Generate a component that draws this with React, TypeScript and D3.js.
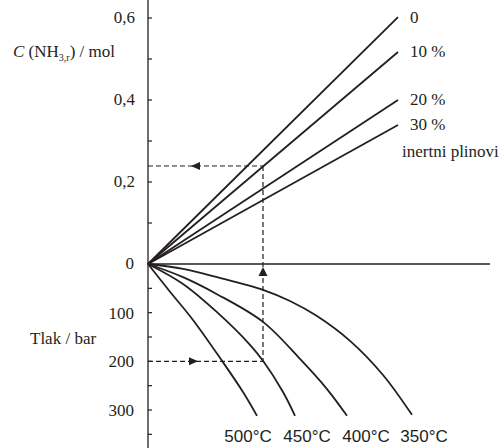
import * as d3 from 'd3';

// inert gas share -> ammonia amount at the right end of each line
const inertLabels = ['0', '10 %', '20 %', '30 %'];
const inertEndC = [0.602, 0.517, 0.4, 0.339];

// temperature curves: [x (arbitrary), pressure / bar]
const tempLabels = ['500°C', '450°C', '400°C', '350°C'];
const curve500 = [[0, 0], [0.088, 57], [0.18, 115], [0.296, 199], [0.38, 263], [0.436, 312]];
const curve450 = [[0, 0], [0.14, 41], [0.276, 99], [0.408, 166], [0.46, 199], [0.54, 263], [0.588, 312]];
const curve400 = [[0, 0], [0.14, 27], [0.276, 62], [0.46, 119], [0.608, 195], [0.716, 257], [0.796, 312]];
const curve350 = [[0, 0], [0.14, 10], [0.276, 27], [0.46, 53], [0.568, 76], [0.676, 107], [0.808, 158], [0.94, 228], [1.056, 310]];
const tempCurves = [curve500, curve450, curve400, curve350];
const tempLabelX = [0.4, 0.636, 0.872, 1.104];

const concTicks = [0.2, 0.4, 0.6];
const concMinor = [0.1, 0.3, 0.5];
const pressTicks = [100, 200, 300];
const pressMinor = [50, 150, 250, 350];

// worked example: 10 % line read at 200 bar / 450 °C
const readX = 0.46;
const readC = 0.239;
const readP = 200;

const W = 503, H = 448;
const ink = '#231f20';
const serif = '"Liberation Serif", "Times New Roman", serif';
const sans = '"Liberation Sans", Arial, sans-serif';

const commaFmt = (v: number) => d3.format('.1f')(v).replace('.', ',');

export default function App() {
  const x = d3.scaleLinear().domain([0, 1]).range([148, 398]);
  const yC = d3.scaleLinear().domain([0, 0.6]).range([264, 18]);
  const yP = d3.scaleLinear().domain([0, 300]).range([264, 410]);
  const x0 = x(0);

  const curveLine = d3.line<number[]>()
    .x(d => x(d[0]))
    .y(d => yP(d[1]))
    .curve(d3.curveCatmullRom.alpha(0.5));

  const ax = x(readX), ayC = yC(readC), ayP = yP(readP);

  return (
    <svg width={W} height={H} style={{ position: 'absolute', left: 0, top: 0, background: '#fff' }}>
      {/* axis */}
      <line x1={x0} x2={x0} y1={0} y2={H} stroke={ink} strokeWidth={1.3} />
      <line x1={x0} x2={x(1.368)} y1={yC(0)} y2={yC(0)} stroke={ink} strokeWidth={1.3} />

      {concTicks.concat(concMinor).map(t => (
        <line key={'c' + t} x1={x0} x2={x0 + 4} y1={yC(t)} y2={yC(t)} stroke={ink} strokeWidth={1.2} />
      ))}
      {pressTicks.concat(pressMinor).map(t => (
        <line key={'p' + t} x1={x0} x2={x0 + 4} y1={yP(t)} y2={yP(t)} stroke={ink} strokeWidth={1.2} />
      ))}

      <g fontFamily={serif} fontSize={17} fill={ink} textAnchor="end">
        {concTicks.map(t => (
          <text key={t} x={x0 - 13} y={yC(t)} dy="0.32em">{commaFmt(t)}</text>
        ))}
        <text x={x0 - 14} y={yC(0)} dy="0.32em">0</text>
        {pressTicks.map(t => (
          <text key={t} x={x0 - 14} y={yP(t)} dy="0.35em">{t}</text>
        ))}
      </g>

      {/* axis titles */}
      <text x={13} y={57} fontFamily={serif} fontSize={17} fill={ink}>
        <tspan fontStyle="italic">C</tspan> (NH<tspan fontSize={10} dy={4}>3,r</tspan><tspan dy={-4}>) / mol</tspan>
      </text>
      <text x={30} y={344} fontFamily={serif} fontSize={17} fill={ink}>Tlak / bar</text>

      {/* inert gas lines */}
      {inertEndC.map((c, i) => (
        <line key={i} x1={x0} y1={yC(0)} x2={x(1)} y2={yC(c)} stroke={ink} strokeWidth={1.8} />
      ))}
      <g fontFamily={serif} fontSize={17} fill={ink}>
        {inertEndC.map((c, i) => (
          <text key={i} x={x(1) + 12} y={yC(c)} dy="0.32em">{inertLabels[i]}</text>
        ))}
        <text x={402} y={157}>inertni plinovi</text>
      </g>

      {/* temperature curves */}
      {tempCurves.map((c, i) => (
        <path key={i} d={curveLine(c) || ''} fill="none" stroke={ink} strokeWidth={1.8} />
      ))}
      <g fontFamily={sans} fontSize={17} fill={ink} textAnchor="middle">
        {tempLabels.map((t, i) => (
          <text key={t} x={x(tempLabelX[i])} y={442}>{t}</text>
        ))}
      </g>

      {/* reading guide */}
      <g stroke={ink} strokeWidth={1.2} strokeDasharray="5,3" fill="none">
        <line x1={x0} x2={ax} y1={ayC} y2={ayC} />
        <line x1={ax} x2={ax} y1={ayC} y2={ayP} />
        <line x1={x0} x2={ax} y1={ayP} y2={ayP} />
      </g>
      <g fill={ink}>
        <path d={`M${x(0.172)},${ayC} l9,-4 l0,8 z`} />
        <path d={`M${ax},${yP(6)} l-4.5,9 l9,0 z`} />
        <path d={`M${x(0.2)},${ayP} l-9,-4 l0,8 z`} />
      </g>
    </svg>
  );
}
